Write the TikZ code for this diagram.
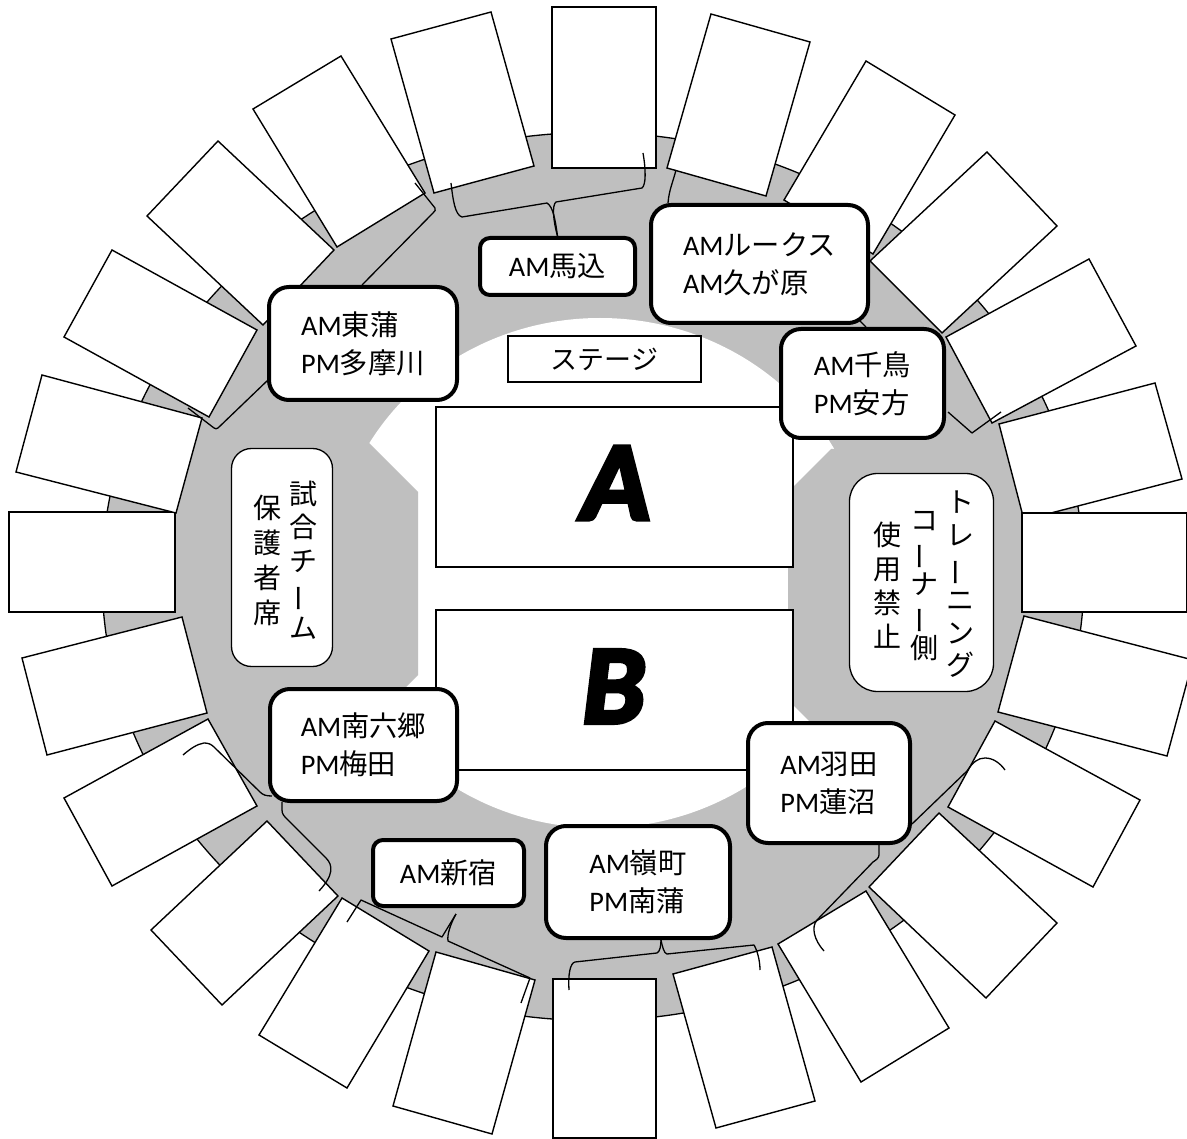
\documentclass[tikz,border=0pt]{standalone}
\usepackage{fontspec}
\usepackage{graphicx}
\setmainfont{Carlito}
\newfontfamily\cjk{Noto Sans CJK JP}
\newfontface\heavy{Carlito Bold Italic}[FakeBold=4]
\definecolor{ring}{HTML}{BFBFBF}
\newcommand{\tate}{\rotatebox[origin=c]{90}{ー}}
\tikzset{
  seat/.style={draw=black,fill=white,line width=1.4pt,line join=miter},
  court/.style={draw=black,fill=white,line width=1.3pt},
  lnk/.style={draw=black,line width=1.3pt,line join=round},
  team/.style={draw=black,fill=white,line width=4pt,rounded corners=20pt,inner sep=0pt,align=left,
     font=\fontsize{28.3}{38}\selectfont},
  sidebox/.style={draw=black,fill=white,line width=1.3pt,inner sep=0pt},
  vcol/.style={inner sep=0pt,align=center,font=\cjk\fontsize{28}{33.5}\selectfont},
}
\begin{document}
\begin{tikzpicture}[x=1pt,y=-1pt]
\useasboundingbox (0,0) rectangle (1187,1139);
\clip (0,0) rectangle (1187,1139);
% ring and floor
\draw[fill=ring,line width=1.3pt] (593,576.5) ellipse [x radius=491,y radius=444];
\fill[white] (600,573) ellipse [x radius=268,y radius=255];
\fill[ring] (369,443) -- (418,492) -- (418,675) -- (365,728) -- (300,728) -- (300,443) -- cycle;
\fill[ring] (831,449) -- (788,492) -- (788,700) -- (835,747) -- (880,747) -- (880,449) -- cycle;
% seats
\draw[seat] (552,7) -- (656,7) -- (656,168) -- (552,168) -- cycle;
\draw[seat] (711,14) -- (810,42) -- (766,196) -- (667,168) -- cycle;
\draw[seat] (866,61) -- (955,115) -- (873,254) -- (784,200) -- cycle;
\draw[seat] (987,152) -- (1057,226) -- (942,333) -- (870,261) -- cycle;
\draw[seat] (1089,259) -- (1136,346) -- (992,423) -- (946,337) -- cycle;
\draw[seat] (1155,383) -- (1182,479) -- (1024,520) -- (999,424) -- cycle;
\draw[seat] (1022,513) -- (1187,513) -- (1187,612) -- (1022,612) -- cycle;
\draw[seat] (1024,616) -- (1193,660) -- (1167,756) -- (998,712) -- cycle;
\draw[seat] (995,721) -- (1140,800) -- (1093,887) -- (948,807) -- cycle;
\draw[seat] (939,813) -- (1057,923) -- (986,998) -- (869,887) -- cycle;
\draw[seat] (866,891) -- (949,1028) -- (861,1082) -- (778,944) -- cycle;
\draw[seat] (772,947) -- (815,1101) -- (716,1128) -- (673,974) -- cycle;
\draw[seat] (553,979) -- (656,979) -- (656,1138) -- (553,1138) -- cycle;
\draw[seat] (535,980) -- (492,1134) -- (393,1106) -- (436,952) -- cycle;
\draw[seat] (429,951) -- (347,1088) -- (259,1035) -- (342,898) -- cycle;
\draw[seat] (338,896) -- (222,1005) -- (151,930) -- (267,821) -- cycle;
\draw[seat] (257,806) -- (112,886) -- (64,798) -- (208,719) -- cycle;
\draw[seat] (207,713) -- (47,755) -- (22,658) -- (182,617) -- cycle;
\draw[seat] (9,512) -- (175,512) -- (175,612) -- (9,612) -- cycle;
\draw[seat] (176,513) -- (16,472) -- (42,375) -- (202,418) -- cycle;
\draw[seat] (209,417) -- (64,337) -- (112,250) -- (257,330) -- cycle;
\draw[seat] (263,325) -- (147,216) -- (218,141) -- (334,250) -- cycle;
\draw[seat] (337,247) -- (253,109) -- (341,56) -- (425,193) -- cycle;
\draw[seat] (434,193) -- (391,39) -- (491,12) -- (534,166) -- cycle;
% courts
\node[court,minimum width=357pt,minimum height=160pt,inner sep=0pt] (courtA) at (614.5,487) {};
\node[court,minimum width=357pt,minimum height=160pt,inner sep=0pt] (courtB) at (614.5,690) {};
\node[inner sep=0pt,font=\heavy\fontsize{112}{112}\selectfont] (letterA) at (616,483) {A};
\node[inner sep=0pt,font=\heavy\fontsize{112}{112}\selectfont] (letterB) at (614,686.5) {B};
\node[draw=black,fill=white,line width=2.6pt,minimum width=193pt,minimum height=46pt,inner sep=0pt,font=\cjk\fontsize{27}{30}\selectfont] (stage) at (604.5,359) {ステージ};
% named boxes
\node[team,minimum width=155pt,minimum height=57pt,rounded corners=10pt] (uma) at (557.5,266.5) {AM{\cjk 馬込}};
\node[team,minimum width=217pt,minimum height=118pt] (lux) at (759.5,264) {AM{\cjk ルークス}\\AM{\cjk 久が原}};
\node[team,minimum width=163pt,minimum height=109pt] (chi) at (862.5,383.5) {AM{\cjk 千鳥}\\PM{\cjk 安方}};
\node[team,minimum width=188pt,minimum height=113pt] (higa) at (363,343.5) {AM{\cjk 東蒲}\\PM{\cjk 多摩川}};
\node[team,minimum width=187pt,minimum height=112pt] (mina) at (363.5,745) {AM{\cjk 南六郷}\\PM{\cjk 梅田}};
\node[team,minimum width=151pt,minimum height=66pt,rounded corners=10pt] (shin) at (448.5,873) {AM{\cjk 新宿}};
\node[team,minimum width=184pt,minimum height=112pt] (rei) at (638,882) {AM{\cjk 嶺町}\\PM{\cjk 南蒲}};
\node[team,minimum width=162pt,minimum height=120pt] (hane) at (829,783) {AM{\cjk 羽田}\\PM{\cjk 蓮沼}};
% side boxes
\node[sidebox,rounded corners=20pt,minimum width=101pt,minimum height=218pt] (guard) at (282,557.5) {};
\node[vcol] (g1) at (303,560) {試\\合\\チ\\\tate\\ム};
\node[vcol,font=\cjk\fontsize{28}{35}\selectfont] (g2) at (267,560.5) {保\\護\\者\\席};
\node[sidebox,rounded corners=28pt,minimum width=144pt,minimum height=218pt] (train) at (921.5,582.5) {};
\node[vcol,font=\cjk\fontsize{28}{32.6}\selectfont] (t1) at (960,584.5) {ト\\レ\\\tate\\ニ\\ン\\グ};
\node[vcol,font=\cjk\fontsize{28}{32}\selectfont] (t2) at (924,586) {コ\\\tate\\ナ\\\tate\\側};
\node[vcol,font=\cjk\fontsize{28}{34}\selectfont] (t3) at (887,585) {使\\用\\禁\\止};
% free ends
\coordinate (u1) at (451,183);
\coordinate (u2) at (643,153);
\coordinate (l1) at (676,170);
\coordinate (l2) at (860,321);
\coordinate (c1) at (1001,412);
\coordinate (h1) at (415,183);
\coordinate (h2) at (188,408);
\coordinate (m1) at (183,755);
\coordinate (m2) at (319,891);
\coordinate (s0) at (456,914);
\coordinate (s1) at (347,922);
\coordinate (s2) at (521,1003);
\coordinate (r1) at (569,990);
\coordinate (r2) at (760,970);
\coordinate (w1) at (824,951);
\coordinate (w2) at (1005,770);
% connectors
\draw[lnk] (uma.north) .. controls (555,218) and (553,207) .. (547,203) -- (462,217) .. controls (455,215) and (453,200) .. (u1);
\draw[lnk] (uma.north) .. controls (553,220) and (552,205) .. (556,202) -- (642,188) .. controls (646,185) and (646,170) .. (u2);
\draw[lnk] (668,203) .. controls (669,190) and (673,182) .. (l1);
\draw[lnk] (c1) -- (972,433) -- (948,412);
\draw[lnk] (h1) -- (435,208) .. controls (436,210) and (435,211) .. (433,213) -- (362,285);
\draw[lnk] (h2) -- (214,428) .. controls (215,429) and (217,429) .. (218,428) -- (268,380);
\draw[lnk] (m1) .. controls (190,749) and (197,744) .. (204,743) .. controls (208,743) and (211,744) .. (214,747) -- (260,792) .. controls (263,795) and (266,796) .. (272,796);
\draw[lnk] (282,802) -- (282,810) .. controls (282,814) and (284,816) .. (287,819) -- (326,858) .. controls (333,865) and (334,875) .. (m2);
\draw[lnk] (s0) -- (442,937) -- (361,900) -- (s1);
\draw[lnk] (s0) .. controls (450,925) and (447,935) .. (448,941) -- (530,978) -- (s2);
\draw[lnk] (rei.south) ++(23,0) .. controls (661,945) and (660,952) .. (657,953) -- (575,962) .. controls (570,963) and (568,975) .. (r1);
\draw[lnk] (rei.south) ++(23,0) .. controls (662,945) and (664,954) .. (667,954) -- (754,945) .. controls (757,950) and (760,960) .. (r2);
\draw[lnk] (hane.south) ++(50,0) -- (879,855) .. controls (879,858) and (876,860) .. (873,862) -- (817,920) .. controls (811,927) and (814,940) .. (w1);
\draw[lnk] (hane.east) ++(0,41) -- (967,771) .. controls (973,762) and (978,758) .. (985,758) .. controls (993,758) and (1000,763) .. (w2);
\draw[lnk] (l2) -- (866,327);
\end{tikzpicture}
\end{document}
